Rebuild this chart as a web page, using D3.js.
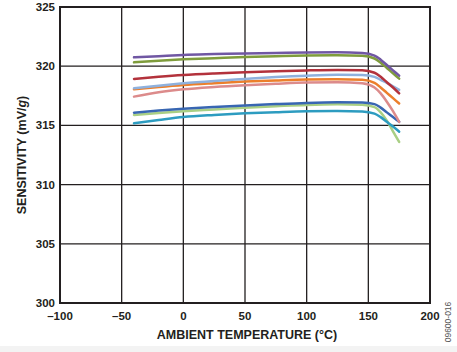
<!DOCTYPE html>
<html>
<head>
<meta charset="UTF-8">
<script src="https://d3js.org/d3.v7.min.js"></script>
<style>
  body { margin: 0; background: #fff; }
  svg text { font-family: 'Liberation Sans', Arial, sans-serif; font-weight: bold; fill: #231f20; }
</style>
</head>
<body>
<svg id="chart" width="457" height="352"></svg>
<script>
// temperatures (°C) where each curve is sampled
const temps = [-40, -20, 0, 25, 50, 75, 100, 125, 145, 155, 160, 165, 170, 175];

const purple = [320.75, 320.85, 320.95, 321.02, 321.08, 321.12, 321.16, 321.17, 321.12, 320.9, 320.55, 320.1, 319.65, 319.2];
const olive = [320.33, 320.47, 320.58, 320.68, 320.77, 320.84, 320.9, 320.92, 320.88, 320.65, 320.3, 319.85, 319.4, 318.95];
const red = [318.92, 319.1, 319.25, 319.38, 319.48, 319.57, 319.64, 319.68, 319.65, 319.45, 319.1, 318.65, 318.2, 317.7];
const lightBlue = [318.13, 318.35, 318.55, 318.75, 318.92, 319.08, 319.2, 319.27, 319.25, 319.1, 318.85, 318.6, 318.3, 318.0];
const orange = [318.05, 318.25, 318.42, 318.57, 318.7, 318.8, 318.88, 318.9, 318.85, 318.6, 318.2, 317.75, 317.3, 316.85];
const pink = [317.43, 317.8, 318.05, 318.25, 318.4, 318.52, 318.62, 318.65, 318.55, 318.2, 317.7, 317.0, 316.2, 315.3];
const blue = [316.07, 316.25, 316.4, 316.55, 316.68, 316.8, 316.9, 316.95, 316.93, 316.8, 316.5, 316.1, 315.7, 315.3];
const lightGreen = [315.88, 316.05, 316.2, 316.35, 316.5, 316.62, 316.73, 316.78, 316.75, 316.55, 316.1, 315.4, 314.5, 313.6];
const teal = [315.18, 315.45, 315.7, 315.88, 316.02, 316.12, 316.2, 316.22, 316.18, 316.0, 315.7, 315.3, 314.9, 314.47];

const seriesList = [olive, purple, lightGreen, blue, pink, orange, lightBlue, red, teal];
const seriesColors = ["#7f9c3c", "#7057a3", "#a9cf84", "#3866b2", "#dc8b8b", "#ec7f2b", "#8fb1dd", "#b3323c", "#2d9cc0"];

const xTicks = [-100, -50, 0, 50, 100, 150, 200];
const yTicks = [300, 305, 310, 315, 320, 325];

const svg = d3.select("#chart");
const plotL = 60, plotR = 430, plotT = 7, plotB = 303;

const x = d3.scaleLinear().domain([-100, 200]).range([plotL, plotR]);
const y = d3.scaleLinear().domain([300, 325]).range([plotB, plotT]);

// faint strip at the very bottom of the scan
svg.append("rect").attr("x", 0).attr("y", 346).attr("width", 457).attr("height", 6).attr("fill", "#f3f3f3");

// grid
svg.append("g")
  .selectAll("line")
  .data(xTicks)
  .join("line")
  .attr("x1", d => x(d)).attr("x2", d => x(d))
  .attr("y1", plotT).attr("y2", plotB)
  .attr("stroke", "#231f20").attr("stroke-width", 1.3);

svg.append("g")
  .selectAll("line")
  .data(yTicks)
  .join("line")
  .attr("x1", plotL).attr("x2", plotR)
  .attr("y1", d => y(d)).attr("y2", d => y(d))
  .attr("stroke", "#231f20").attr("stroke-width", 1.3);

// curves
const line = d3.line()
  .x((d, i) => x(temps[i]))
  .y(d => y(d))
  .curve(d3.curveMonotoneX);

svg.append("g")
  .selectAll("path")
  .data(seriesList)
  .join("path")
  .attr("d", line)
  .attr("fill", "none")
  .attr("stroke", (d, i) => seriesColors[i])
  .attr("stroke-width", 2.5)
  .attr("stroke-linecap", "round");

// frame
svg.append("rect")
  .attr("x", plotL).attr("y", plotT)
  .attr("width", plotR - plotL).attr("height", plotB - plotT)
  .attr("fill", "none").attr("stroke", "#231f20").attr("stroke-width", 2);

// tick labels
svg.append("g")
  .selectAll("text")
  .data(xTicks)
  .join("text")
  .attr("x", d => x(d))
  .attr("y", 320)
  .attr("text-anchor", "middle")
  .attr("font-size", 11.5)
  .text(d => d < 0 ? "\u2013" + Math.abs(d) : d);

svg.append("g")
  .selectAll("text")
  .data(yTicks)
  .join("text")
  .attr("x", 55)
  .attr("y", d => y(d) + 4)
  .attr("text-anchor", "end")
  .attr("font-size", 11.5)
  .text(d => d);

// axis titles
svg.append("text")
  .attr("x", x(50) + 2)
  .attr("y", 339)
  .attr("text-anchor", "middle")
  .attr("font-size", 12.5)
  .text("AMBIENT TEMPERATURE (°C)");

const yTitle = svg.append("text")
  .attr("transform", `translate(26,${y(312.5)}) rotate(-90)`)
  .attr("text-anchor", "middle")
  .attr("font-size", 12.5);
yTitle.append("tspan").text("SENSITIVITY (mV/");
yTitle.append("tspan").attr("font-style", "italic").text("g");
yTitle.append("tspan").text(")");

// figure id
svg.append("text")
  .attr("transform", "translate(451,322) rotate(-90)")
  .attr("text-anchor", "middle")
  .attr("font-size", 8.5)
  .style("font-weight", "normal")
  .style("fill", "#555")
  .text("09600-016");
</script>
</body>
</html>
